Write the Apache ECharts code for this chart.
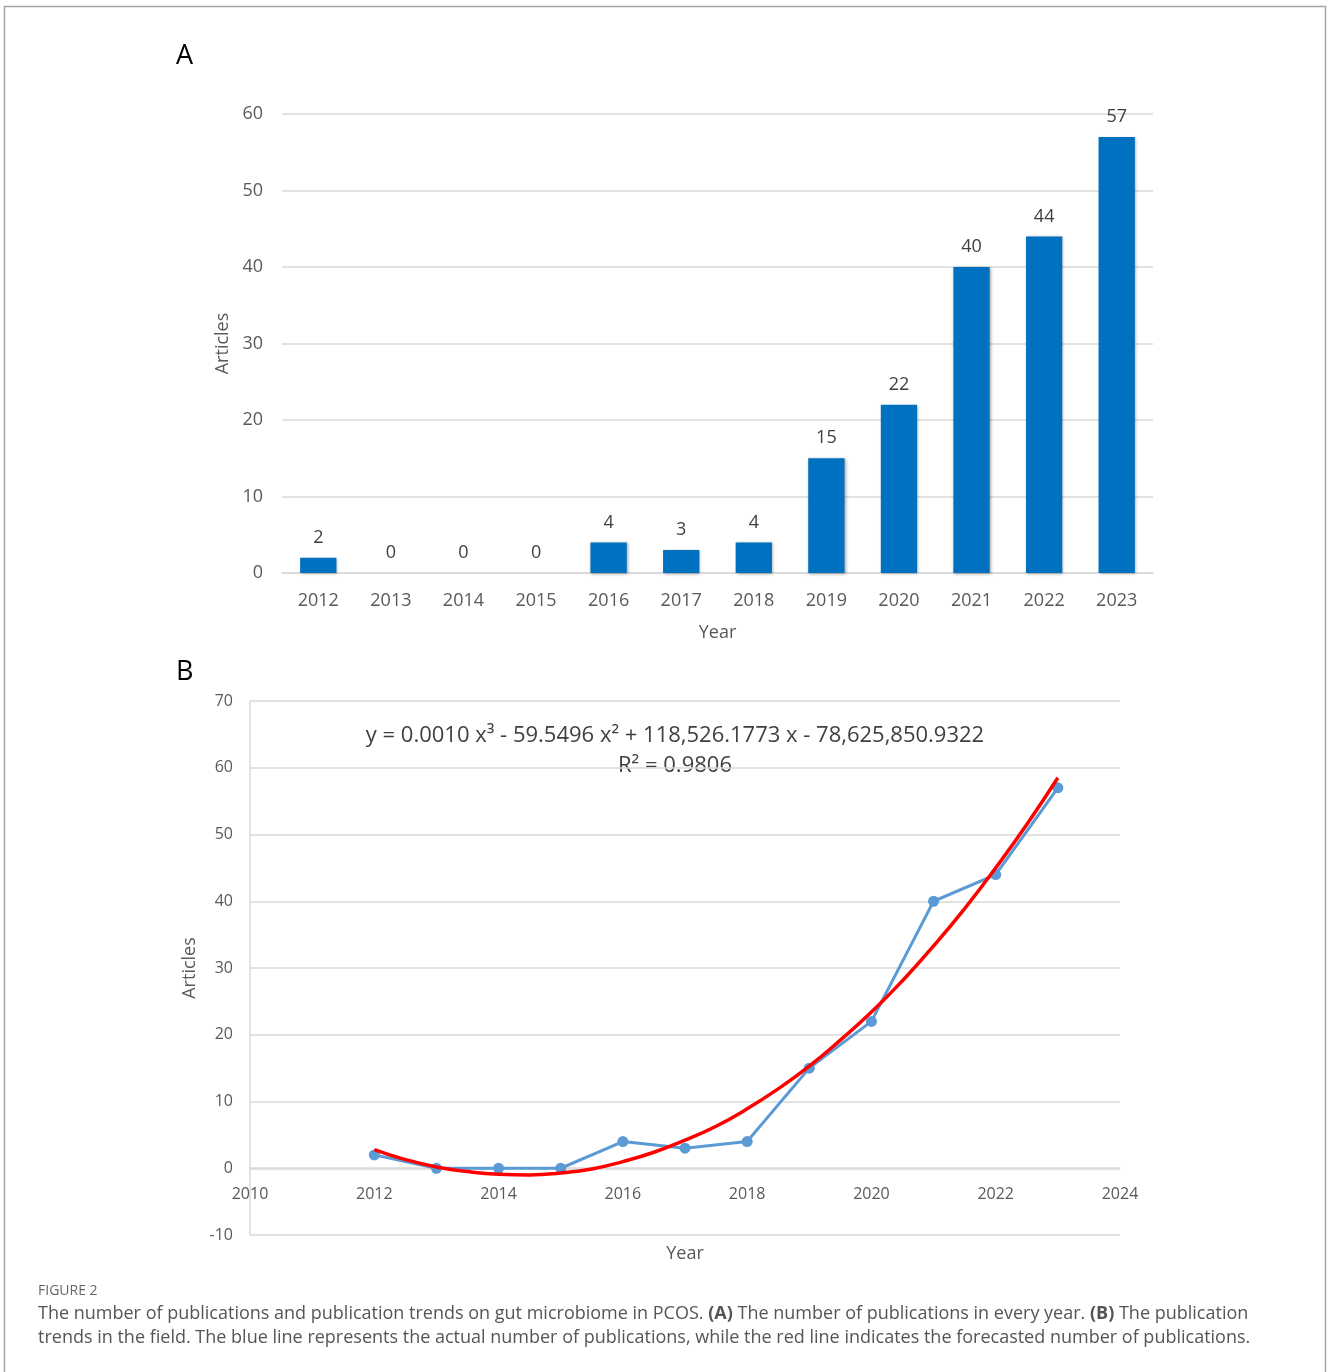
<!DOCTYPE html>
<html>
<head>
<meta charset="utf-8">
<title>Figure 2</title>
<script src="https://cdn.jsdelivr.net/npm/echarts@6/dist/echarts.min.js"></script>
<style>
  html, body { margin: 0; padding: 0; background: #ffffff; }
  #chart { width: 1328px; height: 1372px; }
</style>
</head>
<body>
<div id="chart"></div>
<script>
// Publications per year (panel A bars, panel B blue line)
const years = ['2012', '2013', '2014', '2015', '2016', '2017', '2018', '2019', '2020', '2021', '2022', '2023'];
const articles = [2, 0, 0, 0, 4, 3, 4, 15, 22, 40, 44, 57];

// Polynomial trend line sampled every half year (panel B red line)
const trendYears = [2012, 2012.5, 2013, 2013.5, 2014, 2014.5, 2015, 2015.5, 2016, 2016.5, 2017, 2017.5,
                    2018, 2018.5, 2019, 2019.5, 2020, 2020.5, 2021, 2021.5, 2022, 2022.5, 2023];
const trendValues = [2.8, 1.3, 0.2, -0.5, -0.9, -1.0, -0.7, -0.1, 1.0, 2.4, 4.2, 6.3,
                     8.9, 11.9, 15.3, 19.2, 23.4, 28.1, 33.3, 38.9, 45.0, 51.5, 58.5];

const equationText = 'y = 0.0010 x\u00B3 - 59.5496 x\u00B2 + 118,526.1773 x - 78,625,850.9322';
const rSquaredText = 'R\u00B2 = 0.9806';

const FONT = '"Open Sans", "Noto Sans", sans-serif';
const AXIS_TEXT = '#595959';
const GRID_GRAY = '#d9d9d9';

const chart = echarts.init(document.getElementById('chart'), null, { renderer: 'canvas' });

const option = {
  backgroundColor: '#ffffff',
  animation: false,
  textStyle: { fontFamily: FONT },
  grid: [
    { left: 282, top: 114, width: 871, height: 459 },
    { left: 250, top: 701, width: 870, height: 534 }
  ],
  xAxis: [
    {
      gridIndex: 0,
      type: 'category',
      data: years,
      axisLine: { lineStyle: { color: GRID_GRAY, width: 1.5 } },
      axisTick: { show: false },
      axisLabel: { color: AXIS_TEXT, fontSize: 18, margin: 19, fontFamily: FONT },
      name: 'Year',
      nameLocation: 'middle',
      nameGap: 51,
      nameTextStyle: { color: AXIS_TEXT, fontSize: 18, fontFamily: FONT }
    },
    {
      gridIndex: 1,
      type: 'value',
      min: 2010,
      max: 2024,
      interval: 2,
      // the year axis runs along the zero line of the article scale
      offset: -67,
      axisLine: { onZero: false, lineStyle: { color: GRID_GRAY, width: 1.5 } },
      axisTick: { show: false },
      splitLine: { show: false },
      axisLabel: {
        color: AXIS_TEXT, fontSize: 16, margin: 18, fontFamily: FONT,
        formatter: (v) => String(v)
      },
      name: 'Year',
      nameLocation: 'middle',
      nameGap: 77,
      nameTextStyle: { color: AXIS_TEXT, fontSize: 18, fontFamily: FONT }
    }
  ],
  yAxis: [
    {
      gridIndex: 0,
      type: 'value',
      min: 0,
      max: 60,
      interval: 10,
      axisLine: { show: false },
      axisTick: { show: false },
      splitLine: { lineStyle: { color: GRID_GRAY, width: 1.5 } },
      axisLabel: { color: AXIS_TEXT, fontSize: 18, margin: 19, fontFamily: FONT },
      name: 'Articles',
      nameLocation: 'middle',
      nameRotate: 90,
      nameGap: 47,
      nameTextStyle: { color: AXIS_TEXT, fontSize: 18, fontFamily: FONT }
    },
    {
      gridIndex: 1,
      type: 'value',
      min: -10,
      max: 70,
      interval: 10,
      axisLine: { show: true, onZero: false, lineStyle: { color: GRID_GRAY, width: 1.5 } },
      axisTick: { show: false },
      splitLine: { lineStyle: { color: GRID_GRAY, width: 1.5 } },
      axisLabel: { color: AXIS_TEXT, fontSize: 16, margin: 17, fontFamily: FONT },
      name: 'Articles',
      nameLocation: 'middle',
      nameRotate: 90,
      nameGap: 43,
      nameTextStyle: { color: AXIS_TEXT, fontSize: 18, fontFamily: FONT }
    }
  ],
  series: [
    {
      name: 'Articles per year',
      type: 'bar',
      xAxisIndex: 0,
      yAxisIndex: 0,
      data: articles,
      barWidth: '50%',
      itemStyle: {
        color: '#0070C0',
        shadowBlur: 3,
        shadowColor: 'rgba(0,0,0,0.35)',
        shadowOffsetX: 1,
        shadowOffsetY: 1
      },
      label: {
        show: true,
        position: 'top',
        distance: 11,
        color: '#404040',
        fontSize: 18,
        fontFamily: FONT
      }
    },
    {
      name: 'Actual publications',
      type: 'line',
      xAxisIndex: 1,
      yAxisIndex: 1,
      data: years.map((y, i) => [Number(y), articles[i]]),
      symbol: 'circle',
      symbolSize: 11,
      lineStyle: { color: '#5B9BD5', width: 3 },
      itemStyle: { color: '#5B9BD5' },
      z: 3
    },
    {
      name: 'Polynomial trend',
      type: 'line',
      xAxisIndex: 1,
      yAxisIndex: 1,
      data: trendYears.map((y, i) => [y, trendValues[i]]),
      smooth: true,
      showSymbol: false,
      symbol: 'none',
      lineStyle: { color: '#FF0000', width: 3.5 },
      z: 4
    }
  ],
  graphic: [
    {
      type: 'rect',
      shape: { x: 4.5, y: 6.5, width: 1321, height: 1400 },
      style: { fill: 'none', stroke: '#a6a6a6', lineWidth: 1.5 },
      silent: true
    },
    {
      type: 'text', left: 176, top: 43,
      style: { text: 'A', fontSize: 27, fill: '#000000', fontFamily: FONT }
    },
    {
      type: 'text', left: 176, top: 659,
      style: { text: 'B', fontSize: 27, fill: '#000000', fontFamily: FONT }
    },
    {
      type: 'text', x: 675, y: 736,
      style: {
        text: equationText, fontSize: 22, fill: '#404040', fontFamily: FONT,
        align: 'center', verticalAlign: 'middle'
      }
    },
    {
      type: 'text', x: 675, y: 766,
      style: {
        text: rSquaredText, fontSize: 22, fill: '#404040', fontFamily: FONT,
        align: 'center', verticalAlign: 'middle'
      }
    },
    {
      type: 'text', x: 38, y: 1291,
      style: {
        text: 'FIGURE 2', fontSize: 14, fill: '#666666', fontFamily: FONT,
        verticalAlign: 'middle'
      }
    },
    {
      type: 'text', x: 38, y: 1314,
      style: {
        text: 'The number of publications and publication trends on gut microbiome in PCOS. {b|(A)} The number of publications in every year. {b|(B)} The publication',
        fontSize: 18, fill: '#555555', fontFamily: FONT, verticalAlign: 'middle',
        rich: { b: { fontSize: 18, fontWeight: 'bold', fill: '#555555', fontFamily: FONT } }
      }
    },
    {
      type: 'text', x: 38, y: 1338,
      style: {
        text: 'trends in the field. The blue line represents the actual number of publications, while the red line indicates the forecasted number of publications.',
        fontSize: 18, fill: '#555555', fontFamily: FONT, verticalAlign: 'middle'
      }
    }
  ]
};

chart.setOption(option);
</script>
</body>
</html>
